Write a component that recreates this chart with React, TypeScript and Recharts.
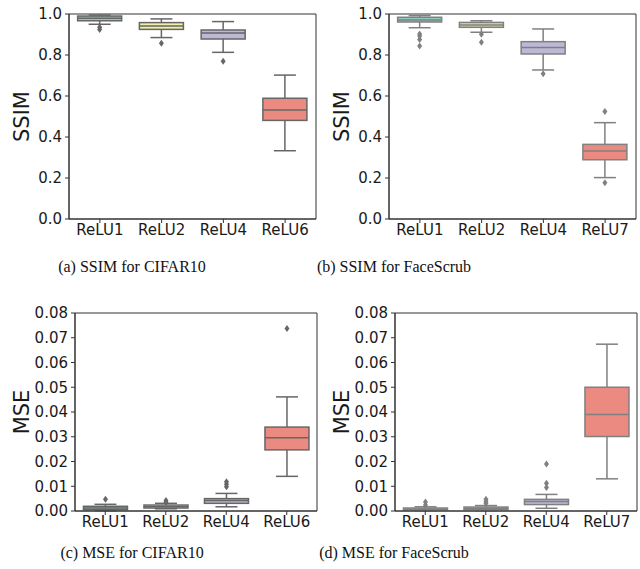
import { Bar, ComposedChart, Label, ReferenceArea, XAxis, YAxis } from 'recharts'

const reluCifar = ['ReLU1', 'ReLU2', 'ReLU4', 'ReLU6']
const reluFace = ['ReLU1', 'ReLU2', 'ReLU4', 'ReLU7']

// (a) SSIM for CIFAR10
const ssimCifarLow = [0.95, 0.885, 0.813, 0.333]
const ssimCifarQ1 = [0.967, 0.925, 0.878, 0.481]
const ssimCifarMed = [0.979, 0.941, 0.907, 0.532]
const ssimCifarQ3 = [0.99, 0.958, 0.922, 0.589]
const ssimCifarHigh = [0.995, 0.976, 0.963, 0.702]
const ssimCifarOut = [[0.935, 0.925], [0.857], [0.769], []]

// (b) SSIM for FaceScrub
const ssimFaceLow = [0.933, 0.911, 0.727, 0.202]
const ssimFaceQ1 = [0.961, 0.935, 0.805, 0.289]
const ssimFaceMed = [0.971, 0.946, 0.837, 0.332]
const ssimFaceQ3 = [0.984, 0.959, 0.865, 0.364]
const ssimFaceHigh = [0.992, 0.967, 0.927, 0.47]
const ssimFaceOut = [[0.902, 0.893, 0.876, 0.844], [0.901, 0.862], [0.709], [0.524, 0.177]]

// (c) MSE for CIFAR10
const mseCifarLow = [0.0001, 0.0009, 0.0017, 0.014]
const mseCifarQ1 = [0.0005, 0.0012, 0.0031, 0.0247]
const mseCifarMed = [0.0012, 0.0017, 0.0042, 0.0296]
const mseCifarQ3 = [0.0019, 0.0024, 0.005, 0.0339]
const mseCifarHigh = [0.0027, 0.0031, 0.0071, 0.0461]
const mseCifarOut = [[0.0047], [0.0042, 0.0035], [0.0118, 0.0108, 0.0098], [0.0737]]

// (d) MSE for FaceScrub
const mseFaceLow = [0.0, 0.0, 0.0011, 0.013]
const mseFaceQ1 = [0.0003, 0.0005, 0.0026, 0.0301]
const mseFaceMed = [0.0007, 0.0011, 0.0038, 0.039]
const mseFaceQ3 = [0.0012, 0.0016, 0.0047, 0.05]
const mseFaceHigh = [0.0017, 0.0022, 0.0067, 0.0674]
const mseFaceOut = [[0.0036, 0.0024], [0.0047, 0.0038, 0.003], [0.019, 0.0112, 0.0095], []]

const ssimTicks = [0, 0.2, 0.4, 0.6, 0.8, 1.0]
const mseTicks = [0, 0.01, 0.02, 0.03, 0.04, 0.05, 0.06, 0.07, 0.08]

const boxColorsA = ['#8fcbbf', '#f1f0a8', '#bcb8d6', '#ea8a80']
const boxColorsB = ['#8fcbbf', '#d8d6a4', '#bcb8d6', '#ea8a80']

const FONT = "'DejaVu Sans', sans-serif"

type Row = {
  name: string
  range: [number, number]
  q1: number
  med: number
  q3: number
  out: number[]
}

function buildRows(
  cats: string[],
  low: number[],
  q1: number[],
  med: number[],
  q3: number[],
  high: number[],
  out: number[][],
): Row[] {
  return cats.map((name, i) => ({
    name,
    range: [low[i], high[i]],
    q1: q1[i],
    med: med[i],
    q3: q3[i],
    out: out[i],
  }))
}

function BoxShape(props: any) {
  const { x, y, width, height, payload, fillColor, lineColor } = props
  const row = payload as Row
  const [lo, hi] = row.range
  const top = Math.min(y, y + height)
  const h = Math.abs(height)
  // map a value to pixels from the whisker range bar the library placed
  const py = (v: number) => top + ((hi - v) * h) / (hi - lo)
  const cx = x + width / 2
  const cap = width / 4
  const yq1 = py(row.q1)
  const yq3 = py(row.q3)
  return (
    <g>
      <line x1={cx} x2={cx} y1={py(hi)} y2={yq3} stroke={lineColor} strokeWidth={1.5} />
      <line x1={cx} x2={cx} y1={yq1} y2={py(lo)} stroke={lineColor} strokeWidth={1.5} />
      <line x1={cx - cap} x2={cx + cap} y1={py(hi)} y2={py(hi)} stroke={lineColor} strokeWidth={1.5} />
      <line x1={cx - cap} x2={cx + cap} y1={py(lo)} y2={py(lo)} stroke={lineColor} strokeWidth={1.5} />
      <rect
        x={x}
        y={yq3}
        width={width}
        height={Math.max(yq1 - yq3, 0.5)}
        fill={fillColor}
        stroke={lineColor}
        strokeWidth={1.5}
      />
      <line x1={x} x2={x + width} y1={py(row.med)} y2={py(row.med)} stroke={lineColor} strokeWidth={1.5} />
      {row.out.map((v, k) => {
        const oy = py(v)
        return (
          <path
            key={k}
            d={`M${cx},${oy - 3.5} L${cx + 2.5},${oy} L${cx},${oy + 3.5} L${cx - 2.5},${oy} Z`}
            fill={lineColor}
          />
        )
      })}
    </g>
  )
}

type PanelProps = {
  rows: Row[]
  ticks: number[]
  digits: number
  label: string
  colors: string[]
  lineColor: string
  yWidth: number
  top: number
  bottom: number
  right: number
}

function BoxPanel({ rows, ticks, digits, label, colors, lineColor, yWidth, top, bottom, right }: PanelProps) {
  const dMin = ticks[0]
  const dMax = ticks[ticks.length - 1]
  return (
    <ComposedChart
      width={320}
      height={240}
      data={rows}
      margin={{ top, right, bottom, left: 0 }}
      barCategoryGap="14%"
    >
      <XAxis
        dataKey="name"
        interval={0}
        height={21}
        tickSize={4}
        tickMargin={1}
        tick={{ fill: '#1a1a1a', fontSize: 15, fontFamily: FONT }}
        axisLine={{ stroke: '#333' }}
        tickLine={{ stroke: '#333' }}
      />
      <YAxis
        type="number"
        domain={[dMin, dMax]}
        ticks={ticks}
        width={yWidth}
        tickSize={4}
        tickMargin={3}
        tickFormatter={(v: number) => v.toFixed(digits)}
        tick={{ fill: '#1a1a1a', fontSize: 15, fontFamily: FONT }}
        axisLine={{ stroke: '#333' }}
        tickLine={{ stroke: '#333' }}
      >
        <Label
          content={(p: any) => {
            const vb = p.viewBox
            const cx = vb.x + 22
            const cy = vb.y + vb.height / 2
            return (
              <text
                x={cx}
                y={cy}
                transform={`rotate(-90, ${cx}, ${cy})`}
                textAnchor="middle"
                dominantBaseline="central"
                fontSize={21}
                fontFamily={FONT}
                fill="#1a1a1a"
              >
                {label}
              </text>
            )
          }}
        />
      </YAxis>
      <ReferenceArea y1={dMin} y2={dMax} fill="none" stroke="#333" strokeWidth={1} ifOverflow="visible" />
      <Bar
        dataKey="range"
        isAnimationActive={false}
        shape={(p: any) => (
          <BoxShape {...p} fillColor={colors[p.index]} lineColor={lineColor} />
        )}
      />
    </ComposedChart>
  )
}

const captionStyle: React.CSSProperties = {
  position: 'absolute',
  width: 300,
  textAlign: 'center',
  fontFamily: "'Liberation Serif', serif",
  fontSize: 16,
  color: '#111',
  lineHeight: '18px',
}

export default function App() {
  const a = buildRows(reluCifar, ssimCifarLow, ssimCifarQ1, ssimCifarMed, ssimCifarQ3, ssimCifarHigh, ssimCifarOut)
  const b = buildRows(reluFace, ssimFaceLow, ssimFaceQ1, ssimFaceMed, ssimFaceQ3, ssimFaceHigh, ssimFaceOut)
  const c = buildRows(reluCifar, mseCifarLow, mseCifarQ1, mseCifarMed, mseCifarQ3, mseCifarHigh, mseCifarOut)
  const d = buildRows(reluFace, mseFaceLow, mseFaceQ1, mseFaceMed, mseFaceQ3, mseFaceHigh, mseFaceOut)
  return (
    <div style={{ position: 'absolute', left: 0, top: 0, width: 640, height: 569, background: '#fff' }}>
      <div style={{ position: 'absolute', left: 0, top: 0 }}>
        <BoxPanel rows={a} ticks={ssimTicks} digits={1} label="SSIM" colors={boxColorsA} lineColor="#666"
          yWidth={69} top={14} bottom={0} right={4} />
      </div>
      <div style={{ position: 'absolute', left: 320, top: 0 }}>
        <BoxPanel rows={b} ticks={ssimTicks} digits={1} label="SSIM" colors={boxColorsB} lineColor="#808080"
          yWidth={69} top={14} bottom={0} right={4} />
      </div>
      <div style={{ position: 'absolute', left: 0, top: 290 }}>
        <BoxPanel rows={c} ticks={mseTicks} digits={2} label="MSE" colors={boxColorsA} lineColor="#666"
          yWidth={75} top={23} bottom={-2} right={3} />
      </div>
      <div style={{ position: 'absolute', left: 320, top: 290 }}>
        <BoxPanel rows={d} ticks={mseTicks} digits={2} label="MSE" colors={boxColorsB} lineColor="#808080"
          yWidth={75} top={23} bottom={-2} right={3} />
      </div>
      <div style={{ ...captionStyle, left: -18, top: 258 }}>(a) SSIM for CIFAR10</div>
      <div style={{ ...captionStyle, left: 244, top: 258 }}>(b) SSIM for FaceScrub</div>
      <div style={{ ...captionStyle, left: -18, top: 544 }}>(c) MSE for CIFAR10</div>
      <div style={{ ...captionStyle, left: 244, top: 544 }}>(d) MSE for FaceScrub</div>
    </div>
  )
}
